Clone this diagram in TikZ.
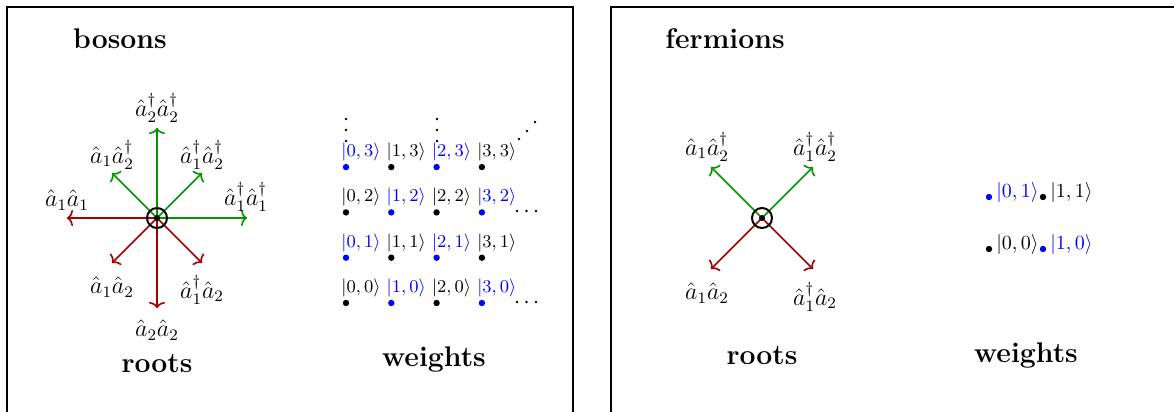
\documentclass[tikz,border=0pt]{standalone}
\usepackage{amsmath}
\usepackage{graphicx}
\usetikzlibrary{arrows.meta}

\definecolor{rootgreen}{RGB}{0,150,0}
\definecolor{rootred}{RGB}{165,0,0}
\colorlet{wcol0}{black}
\colorlet{wcol1}{blue}

\tikzset{
    panel/.style={line width=0.75pt},
    title/.style={anchor=base, font=\fontsize{14.2}{16}\selectfont\bfseries},
    rootlbl/.style={font=\fontsize{11.5}{13}\selectfont, inner sep=0pt},
    raise/.style={-{To[length=3pt,width=8pt]}, line width=0.8pt, rootgreen},
    lower/.style={-{To[length=3pt,width=8pt]}, line width=0.8pt, rootred},
    kets/.style={anchor=west, inner sep=0pt, font=\fontsize{8.6}{9}\selectfont},
    ketsbig/.style={anchor=west, inner sep=0pt, font=\fontsize{9.6}{10}\selectfont},
}

\begin{document}
\begin{tikzpicture}[x=0.5pt, y=-0.5pt]

        \useasboundingbox (0,0) rectangle (1174,412);

        % molduras
        \draw[panel] (7,420) -- (7,7) -- (573,7) -- (573,420);
        \draw[panel] (611,420) -- (611,7) -- (1180,7);

        % titulos
        \node[title] (tb) at (120,48) {bosons};
        \node[title] (tf) at (725,48) {fermions};
        \node[title] (rb) at (157,372) {roots};
        \node[title] (rf) at (762,364) {roots};
        \node[title] (wb) at (434,366) {weights};
        \node[title] (wf) at (1026,362) {weights};

        % raizes bosons
        \coordinate (b0) at (157,218);
        \coordinate (bE) at (247,218);
        \coordinate (bW) at (67,218);
        \coordinate (bN) at (157,128);
        \coordinate (bS) at (157,308);
        \coordinate (bNE) at (202,173);
        \coordinate (bNW) at (112,173);
        \coordinate (bSE) at (202,263);
        \coordinate (bSW) at (112,263);

        \draw[raise] (b0) -- (bE);
        \draw[raise] (b0) -- (bN);
        \draw[raise] (b0) -- (bNE);
        \draw[raise] (b0) -- (bNW);
        \draw[lower] (b0) -- (bW);
        \draw[lower] (b0) -- (bS);
        \draw[lower] (b0) -- (bSE);
        \draw[lower] (b0) -- (bSW);

        \draw[line width=1pt] (b0) circle (5pt);
        \fill (b0) circle (1.5pt);

        \node[rootlbl] (lN) at (157,108) {$\hat a_2^\dagger \hat a_2^\dagger$};
        \node[rootlbl] (lNW) at (112,155) {$\hat a_1 \hat a_2^\dagger$};
        \node[rootlbl] (lNE) at (202,155) {$\hat a_1^\dagger \hat a_2^\dagger$};
        \node[rootlbl] (lW) at (67,200) {$\hat a_1 \hat a_1$};
        \node[rootlbl] (lE) at (246,197) {$\hat a_1^\dagger \hat a_1^\dagger$};
        \node[rootlbl] (lSW) at (112,287) {$\hat a_1 \hat a_2$};
        \node[rootlbl] (lSE) at (202,290) {$\hat a_1^\dagger \hat a_2$};
        \node[rootlbl] (lS) at (157,330) {$\hat a_2 \hat a_2$};

        % pesos bosons
        \foreach \j in {0,1,2,3}
        \foreach \i in {0,1,2,3} {
            \pgfmathtruncatemacro{\c}{mod(\i+\j,2)}
            \fill[wcol\c] (346+45.3*\i,303-45.3*\j) circle (1.6pt);
            \node[kets, text=wcol\c] (k\i\j) at (341+45.3*\i,288-45.3*\j) {$|\i,\j\rangle$};
        }

        % reticencias
        \foreach \x in {346,437}
        \foreach \y in {119,130,141}
            \fill (\x,\y) circle (0.7pt);

        \foreach \y in {211,302}
        \foreach \x in {517,526.5,536}
            \fill (\x,\y) circle (0.7pt);

        \fill (519,139) circle (0.7pt);
        \fill (527,131) circle (0.7pt);
        \fill (535,122) circle (0.7pt);

        % raizes fermions
        \coordinate (f0) at (762,218);
        \coordinate (fNE) at (813,167);
        \coordinate (fNW) at (711,167);
        \coordinate (fSE) at (813,269);
        \coordinate (fSW) at (711,269);

        \draw[raise] (f0) -- (fNE);
        \draw[raise] (f0) -- (fNW);
        \draw[lower] (f0) -- (fSE);
        \draw[lower] (f0) -- (fSW);

        \draw[line width=1pt] (f0) circle (5pt);
        \fill (f0) circle (1.5pt);

        \node[rootlbl] (mNW) at (707,147) {$\hat a_1 \hat a_2^\dagger$};
        \node[rootlbl] (mNE) at (815,147) {$\hat a_1^\dagger \hat a_2^\dagger$};
        \node[rootlbl] (mSW) at (707,293) {$\hat a_1 \hat a_2$};
        \node[rootlbl] (mSE) at (815,297) {$\hat a_1^\dagger \hat a_2$};

        % pesos fermions
        \foreach \j in {0,1}
        \foreach \i in {0,1} {
            \pgfmathtruncatemacro{\c}{mod(\i+\j,2)}
            \fill[wcol\c] (989+54*\i,249-52*\j) circle (1.6pt);
            \node[ketsbig, text=wcol\c] (q\i\j) at (996+54*\i,244-52*\j) {$|\i,\j\rangle$};
        }

\end{tikzpicture}
\end{document}
